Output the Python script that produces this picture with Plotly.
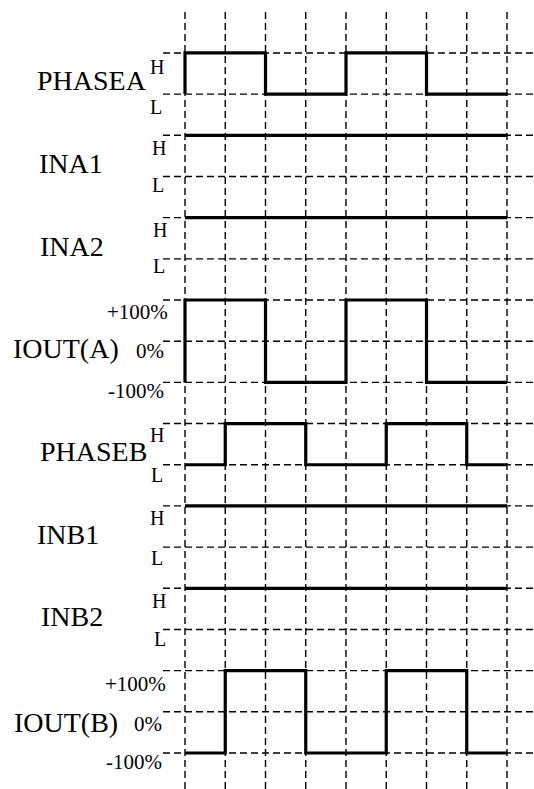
import plotly.graph_objects as go

# ---- data ----
time = [0, 0, 1, 2, 3, 4, 5, 6, 7, 8]
phase_a = [0, 1, 1, 0, 0, 1, 1, 0, 0, 0]
ina1 = [1, 1, 1, 1, 1, 1, 1, 1, 1, 1]
ina2 = [1, 1, 1, 1, 1, 1, 1, 1, 1, 1]
iout_a = [-100, 100, 100, -100, -100, 100, 100, -100, -100, -100]
phase_b = [0, 0, 1, 1, 0, 0, 1, 1, 0, 0]
inb1 = [1, 1, 1, 1, 1, 1, 1, 1, 1, 1]
inb2 = [1, 1, 1, 1, 1, 1, 1, 1, 1, 1]
iout_b = [-100, -100, 100, 100, -100, -100, 100, 100, -100, -100]

signal_names = ["PHASEA", "INA1", "INA2", "IOUT(A)", "PHASEB", "INB1", "INB2", "IOUT(B)"]
level_labels = ["H", "L"]
current_labels = ["+100%", "0%", "-100%"]

W, H = 534, 789
X0_PX, DX_PX = 185.0, 40.25      # pixel of t=0, pixels per time unit
Y0_PX, DY_PX = 753.0, 41.18      # pixel of grid row 0 (bottom), pixels per row

def px_to_x(px):
    return (px - X0_PX) / DX_PX

def py_to_y(py):
    return (Y0_PX - py) / DY_PX

# row bases (value of the L / -100% line in grid units)
rows = [
    ("dig", phase_a, 16),
    ("dig", ina1, 14),
    ("dig", ina2, 12),
    ("cur", iout_a, 10),
    ("dig", phase_b, 7),
    ("dig", inb1, 5),
    ("dig", inb2, 3),
    ("cur", iout_b, 1),
]

fig = go.Figure()

for kind, vals, base in rows:
    if kind == "dig":
        ys = [base + v for v in vals]
    else:
        ys = [base + v / 100.0 for v in vals]
    fig.add_trace(go.Scatter(
        x=time, y=ys, mode="lines", line=dict(color="black", width=3.2, shape="hv"),
        hoverinfo="skip", showlegend=False,
    ))

shapes = []
dash = "7px,4px"
# horizontal grid lines
for j in range(18):
    shapes.append(dict(type="line", xref="x", yref="y", x0=px_to_x(163), x1=px_to_x(540),
                       y0=j, y1=j, line=dict(color="black", width=1.4, dash=dash), layer="below"))
# vertical grid lines
for i in range(9):
    shapes.append(dict(type="line", xref="x", yref="y", x0=i, x1=i,
                       y0=py_to_y(12), y1=py_to_y(800), line=dict(color="black", width=1.4, dash=dash),
                       layer="below"))

FONT = "Liberation Serif"
ann = []
def add(text, px, py, size, xanchor="center"):
    ann.append(dict(text=text, x=px / W, y=1 - py / H, xref="paper", yref="paper",
                    xanchor=xanchor, yanchor="middle", showarrow=False,
                    font=dict(family=FONT, size=size, color="black")))

# signal names (pixel centers)
name_pos = [(92, 81), (71, 163), (72, 246), (66, 348), (93, 451), (68, 534), (72, 616), (66, 722)]
for name, (px, py) in zip(signal_names, name_pos):
    add(name, px, py, 28)

# H / L labels
hl_pos = [((157, 67), (156, 107)), ((159, 148), (158, 185)), ((160, 230), (159, 266)),
          ((157, 435), (157, 475)), ((157, 518), (157, 558)), ((159, 601), (160, 639))]
for (hp, lp) in hl_pos:
    add(level_labels[0], hp[0], hp[1], 20)
    add(level_labels[1], lp[0], lp[1], 20)

# current labels (right aligned)
cur_pos = [[(170, 312), (166, 351), (166, 391)], [(168, 684), (164, 724), (164, 762)]]
for group in cur_pos:
    for lab, (px, py) in zip(current_labels, group):
        add(lab, px, py, 21, xanchor="right")

fig.update_layout(
    width=W, height=H, margin=dict(l=0, r=0, t=0, b=0),
    paper_bgcolor="white", plot_bgcolor="white",
    xaxis=dict(range=[px_to_x(0), px_to_x(W)], visible=False, fixedrange=True),
    yaxis=dict(range=[py_to_y(H), py_to_y(0)], visible=False, fixedrange=True),
    shapes=shapes, annotations=ann, showlegend=False,
)

fig.write_html("out.html", config={"displayModeBar": False},
               post_script="document.body.style.margin='0';document.body.style.overflow='hidden';")
